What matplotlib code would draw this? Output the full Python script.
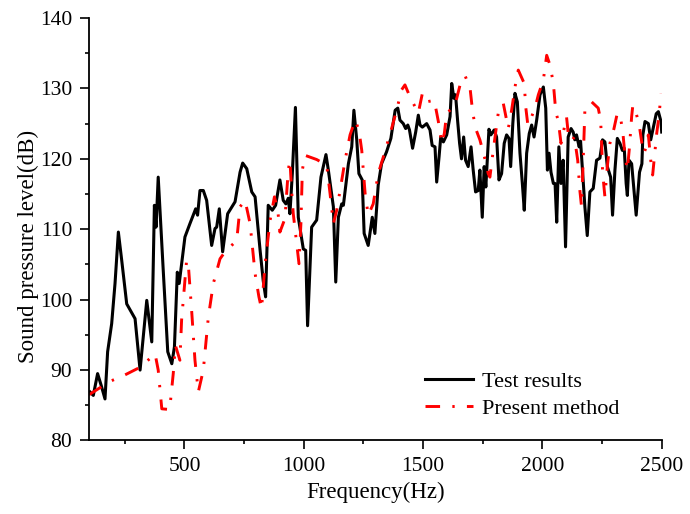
import matplotlib
matplotlib.use("Agg")
from matplotlib import pyplot as plt
from matplotlib.ticker import MultipleLocator

# Test results (measured)
test_freq = [104, 118, 136, 153, 167, 178, 195, 209, 223, 237, 258, 293, 314, 342, 363, 374, 381, 390,
             411, 430, 447, 458, 470, 478, 502, 523, 547, 555, 565, 579, 593, 614, 628, 635, 646, 660,
             681, 712, 733, 744, 761, 782, 796, 817, 830, 840, 851, 868, 882, 900, 914, 925, 935, 942,
             952, 965, 977, 998, 1008, 1016, 1033, 1054, 1072, 1093, 1103, 1124, 1134, 1145, 1159, 1166,
             1187, 1201, 1210, 1222, 1231, 1245, 1253, 1270, 1287, 1298, 1312, 1326, 1347, 1365, 1383,
             1394, 1403, 1417, 1427, 1436, 1443, 1456, 1469, 1480, 1487, 1497, 1515, 1529, 1538, 1550,
             1557, 1567, 1574, 1585, 1599, 1613, 1620, 1629, 1636, 1645, 1653, 1661, 1670, 1678, 1689,
             1701, 1710, 1720, 1731, 1738, 1748, 1756, 1763, 1776, 1784, 1798, 1808, 1818, 1829, 1840,
             1850, 1860, 1867, 1876, 1885, 1895, 1906, 1916, 1924, 1934, 1945, 1955, 1965, 1976, 1990,
             2004, 2014, 2021, 2028, 2036, 2046, 2053, 2060, 2069, 2078, 2087, 2097, 2108, 2120, 2129,
             2136, 2143, 2154, 2160, 2168, 2178, 2188, 2199, 2213, 2227, 2241, 2252, 2262, 2272, 2286,
             2294, 2304, 2314, 2325, 2335, 2343, 2351, 2356, 2363, 2374, 2393, 2407, 2417, 2421, 2430,
             2444, 2454, 2465, 2477, 2486, 2497, 2500]
test_spl = [86.9, 86.4, 89.5, 87.6, 85.9, 92.6, 96.6, 102.3, 109.6, 105.6, 99.4, 97.3, 90.0, 99.9, 94.0,
            113.4, 110.3, 117.4, 104.2, 92.6, 90.9, 93.3, 103.9, 102.3, 108.9, 110.8, 112.9, 112.0, 115.5,
            115.5, 114.1, 107.7, 110.1, 110.3, 112.9, 106.8, 112.2, 113.9, 118.1, 119.4, 118.6, 115.3,
            114.6, 107.0, 102.7, 100.4, 113.4, 112.7, 113.4, 117.0, 114.1, 113.6, 114.4, 112.2, 117.9,
            127.3, 111.7, 107.2, 107.0, 96.3, 110.3, 111.3, 117.4, 120.6, 118.4, 113.2, 102.5, 111.7,
            113.6, 113.4, 119.3, 121.7, 126.9, 122.7, 117.9, 117.0, 109.4, 107.7, 111.7, 109.4, 116.3,
            119.3, 121.0, 122.9, 126.9, 127.2, 125.5, 125.0, 124.3, 124.8, 124.1, 121.5, 123.8, 126.2,
            124.8, 124.5, 125.0, 124.1, 121.9, 121.7, 116.7, 120.3, 123.1, 122.4, 123.4, 126.0, 130.7,
            128.6, 129.1, 125.3, 122.2, 120.0, 123.1, 119.8, 118.9, 121.7, 118.4, 115.3, 115.5, 118.4,
            111.7, 118.9, 116.0, 124.2, 123.4, 124.1, 123.1, 117.0, 117.9, 122.2, 123.4, 122.9, 118.9,
            125.0, 129.3, 128.1, 120.8, 116.5, 112.7, 120.8, 123.6, 124.8, 123.1, 125.5, 129.1, 130.2,
            127.2, 118.4, 120.8, 118.1, 116.5, 116.5, 111.0, 121.7, 116.5, 119.8, 107.5, 123.1, 124.3,
            123.8, 122.7, 123.4, 121.7, 122.5, 118.4, 113.2, 109.1, 115.3, 115.8, 119.8, 120.1, 122.7,
            122.4, 118.9, 117.4, 112.0, 118.4, 122.9, 122.2, 121.2, 121.5, 116.5, 114.8, 119.8, 119.3,
            112.0, 118.1, 119.3, 123.4, 125.3, 125.0, 122.7, 124.5, 126.4, 126.7, 125.3, 123.8]

# Present method (calculated)
calc_freq = [100, 160, 195, 244, 314, 377, 390, 405, 438, 453, 462, 481, 488, 509, 517, 530, 544, 558,
             579, 600, 621, 649, 670, 719, 733, 754, 775, 796, 812, 823, 838, 859, 877, 891, 900, 921,
             935, 942, 949, 956, 970, 980, 988, 994, 1005, 1054, 1096, 1110, 1124, 1138, 1156, 1173,
             1194, 1215, 1231, 1243, 1257, 1270, 1291, 1312, 1340, 1368, 1389, 1410, 1424, 1445, 1469,
             1480, 1497, 1515, 1547, 1564, 1578, 1589, 1599, 1613, 1627, 1641, 1655, 1676, 1697, 1706,
             1718, 1738, 1759, 1773, 1780, 1794, 1815, 1836, 1850, 1857, 1871, 1892, 1899, 1924, 1930,
             1939, 1955, 1969, 1983, 2004, 2018, 2032, 2046, 2056, 2067, 2078, 2087, 2101, 2111, 2125,
             2134, 2148, 2157, 2164, 2171, 2178, 2206, 2234, 2244, 2248, 2252, 2258, 2262, 2272, 2283,
             2300, 2314, 2328, 2337, 2346, 2356, 2365, 2374, 2379, 2393, 2407, 2417, 2426, 2435, 2444,
             2454, 2462, 2472, 2479, 2489, 2497]
calc_spl = [86.5, 87.8, 88.5, 89.2, 90.4, 92.3, 90.0, 84.5, 84.4, 89.5, 93.5, 91.4, 97.1, 105.6, 104.6,
            98.5, 91.4, 86.9, 90.0, 97.5, 102.3, 105.8, 106.8, 108.4, 113.2, 114.1, 110.8, 103.7, 100.4,
            98.7, 105.1, 111.3, 114.6, 112.7, 109.6, 111.5, 118.4, 119.8, 115.5, 112.2, 108.0, 105.1,
            110.8, 118.4, 120.5, 119.9, 119.1, 115.1, 110.8, 112.7, 116.3, 119.8, 123.4, 125.5, 124.1,
            121.2, 115.1, 112.0, 113.6, 117.9, 121.0, 124.3, 126.9, 129.8, 130.5, 128.8, 127.2, 126.5,
            129.3, 128.1, 128.3, 125.3, 122.2, 123.6, 126.5, 126.9, 127.2, 128.6, 130.5, 131.8, 130.0,
            127.2, 124.5, 122.7, 120.0, 117.9, 117.4, 121.2, 126.5, 127.9, 125.5, 124.3, 126.9, 131.7,
            132.6, 130.7, 127.4, 124.8, 126.0, 127.2, 129.1, 131.2, 134.7, 133.3, 130.7, 126.7, 125.3,
            122.2, 123.6, 126.0, 122.7, 122.7, 123.1, 119.8, 115.5, 113.2, 119.8, 126.9, 128.1, 127.2,
            125.5, 122.4, 118.4, 116.0, 114.6, 118.9, 122.2, 124.3, 126.5, 125.7, 123.8, 120.5, 118.4,
            121.7, 126.0, 127.6, 126.5, 124.5, 122.2, 120.8, 121.7, 123.4, 119.8, 117.7, 121.2, 123.6,
            126.2, 129.3]

plt.rcParams['font.family'] = ['Liberation Serif', 'DejaVu Serif']
plt.rcParams['font.size'] = 16

fig = plt.figure(figsize=(6.9, 5.14), dpi=100)
ax = fig.add_axes([0.129, 0.143, 0.830, 0.822])

ax.plot(test_freq, test_spl, color='black', lw=2.2, label='Test results')
line, = ax.plot(calc_freq, calc_spl, color='red', lw=2.1, label='Present method')
line.set_dashes([5.0, 4.2, 0.8, 4.2])

ax.set_xlim(100, 2500)
ax.set_ylim(80, 140)
ax.xaxis.set_major_locator(MultipleLocator(500))
ax.xaxis.set_minor_locator(MultipleLocator(250))
ax.yaxis.set_major_locator(MultipleLocator(10))
ax.yaxis.set_minor_locator(MultipleLocator(5))
ax.tick_params(which='major', length=6.5, width=1.2, pad=5.5, labelsize=15.5)
ax.tick_params(which='minor', length=3, width=1.2)

for side in ['top', 'right']:
    ax.spines[side].set_visible(False)
for side in ['left', 'bottom']:
    ax.spines[side].set_linewidth(1.3)

ax.set_xlabel('Frequency(Hz)', labelpad=4, fontsize=16.5)
ax.set_ylabel('Sound pressure level(dB)', labelpad=1, fontsize=16.5)
ax.yaxis.label.set_y(0.46)

ax.legend(loc='upper left', bbox_to_anchor=(425 / 690, 1 - 371 / 514),
          bbox_transform=fig.transFigure, frameon=False, borderpad=0, borderaxespad=0,
          handlelength=2.15, handletextpad=0.4, labelspacing=0.3, fontsize=16)

fig.savefig('out.png', dpi=100)
